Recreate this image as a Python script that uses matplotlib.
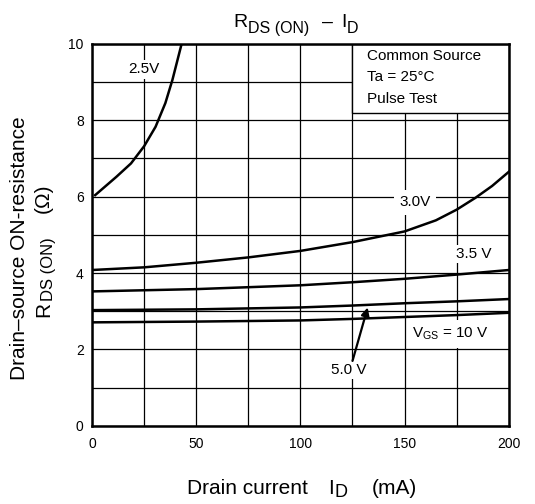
import matplotlib
matplotlib.use("Agg")
import matplotlib.pyplot as plt
from matplotlib.patches import Rectangle

plt.rcParams['font.family'] = ['Liberation Sans', 'DejaVu Sans']
plt.rcParams['mathtext.default'] = 'regular'

# Data (I_D in mA, R_DS(ON) in ohm)
id_25 = [1.5, 11.7, 18.7, 25, 30.5, 35.2, 38.6, 43]
r_25 = [6.04, 6.52, 6.87, 7.32, 7.83, 8.45, 9.06, 10.0]

id_30 = [0, 25, 50, 75, 100, 125, 150, 165, 175, 184, 192, 200]
r_30 = [4.08, 4.15, 4.27, 4.41, 4.58, 4.81, 5.09, 5.38, 5.66, 5.97, 6.28, 6.65]

id_35 = [0, 25, 50, 75, 100, 125, 150, 175, 200]
r_35 = [3.52, 3.55, 3.58, 3.63, 3.68, 3.76, 3.85, 3.96, 4.08]

id_50 = [0, 50, 100, 125, 150, 175, 200]
r_50 = [3.03, 3.05, 3.10, 3.15, 3.21, 3.26, 3.32]

id_10 = [0, 50, 100, 125, 150, 175, 200]
r_10 = [2.71, 2.73, 2.76, 2.80, 2.85, 2.90, 2.96]

x_ticks = [0, 50, 100, 150, 200]
y_ticks = [0, 2, 4, 6, 8, 10]

W, H = 535, 504
fig = plt.figure(figsize=(W / 100, H / 100), dpi=100)
ax = fig.add_axes([0.172, 0.155, 0.779, 0.758])


def rich_text(x0, y0, pieces, rotation=0):
    # pieces: (text, fontsize, gap before in px, drop in px); x0, y0 = baseline start, px from top-left
    r = fig.canvas.get_renderer()
    pos = 0
    for s, size, gap, drop in pieces:
        pos += gap
        t = fig.text(0, 0, s, fontsize=size, ha='left', va='baseline')
        w = t.get_window_extent(r).width
        t.set_rotation(rotation)
        t.set_rotation_mode('anchor')
        if rotation == 0:
            px, py = x0 + pos, y0 + drop
        else:
            px, py = x0 + drop, y0 - pos
        t.set_position((px / W, 1 - py / H))
        pos += w


for xs, ys in [(id_25, r_25), (id_30, r_30), (id_35, r_35), (id_50, r_50), (id_10, r_10)]:
    ax.plot(xs, ys, color='black', linewidth=1.8, zorder=3)

ax.set_xlim(0, 200)
ax.set_ylim(0, 10)
ax.set_xticks(x_ticks)
ax.set_yticks(y_ticks)
ax.set_xticks(range(0, 201, 25), minor=True)
ax.set_yticks(range(0, 11), minor=True)
ax.grid(True, which='both', color='black', linewidth=0.9)
ax.tick_params(which='both', length=0, labelsize=10)
ax.tick_params(axis='x', pad=8)
ax.tick_params(axis='y', pad=6)
for s in ax.spines.values():
    s.set_linewidth(1.8)
    s.set_zorder(5)

# condition box
ax.add_patch(Rectangle((125, 8.2), 75, 1.8, facecolor='white', edgecolor='black',
                       linewidth=1.0, zorder=4))
ax.text(132, 9.67, 'Common Source', fontsize=11, va='center', zorder=5)
ax.text(132, 9.12, 'Ta = 25°C', fontsize=11, va='center', zorder=5)
ax.text(132, 8.56, 'Pulse Test', fontsize=11, va='center', zorder=5)

box = dict(facecolor='white', edgecolor='none', pad=1.5)
ax.text(25, 9.33, '2.5V', fontsize=11, ha='center', va='center', bbox=box, zorder=4)
ax.text(155, 5.85, '3.0V', fontsize=11, ha='center', va='center',
        bbox=dict(facecolor='white', edgecolor='none', pad=4), zorder=4)
ax.text(183, 4.49, '3.5 V', fontsize=11, ha='center', va='center', bbox=box, zorder=4)
ax.text(172, 2.41, 'V$_{GS}$ = 10 V', fontsize=11, ha='center', va='center',
        bbox=dict(facecolor='white', edgecolor='none', pad=4), zorder=4)
ax.text(123, 1.47, '5.0 V', fontsize=11, ha='center', va='center', bbox=box, zorder=4)
ax.annotate('', xy=(132.3, 3.1), xytext=(125, 1.7),
            arrowprops=dict(arrowstyle='-|>', color='black', lw=1.6, mutation_scale=12,
                            shrinkA=0, shrinkB=0), zorder=6)

# title and axis labels with large subscripts
rich_text(233, 27, [('R', 14, 0, 0), ('DS (ON)', 11.5, 0.5, 6),
                    ('–', 14, 13, 0), ('I', 14, 8, 0), ('D', 11.5, 0.5, 6)])
rich_text(187, 494, [('Drain current', 15, 0, 0), ('I', 15, 20, 0),
                     ('D', 13, 1, 3), ('(mA)', 15, 24, 0)])
rich_text(25, 380, [('Drain–source ON-resistance', 15, 0, 0)], rotation=90)
rich_text(49, 317, [('R', 15, 0, 0), ('DS (ON)', 12, 0.5, 4), ('(Ω)', 15, 25, 0)],
          rotation=90)

fig.savefig('out.png', dpi=100)
